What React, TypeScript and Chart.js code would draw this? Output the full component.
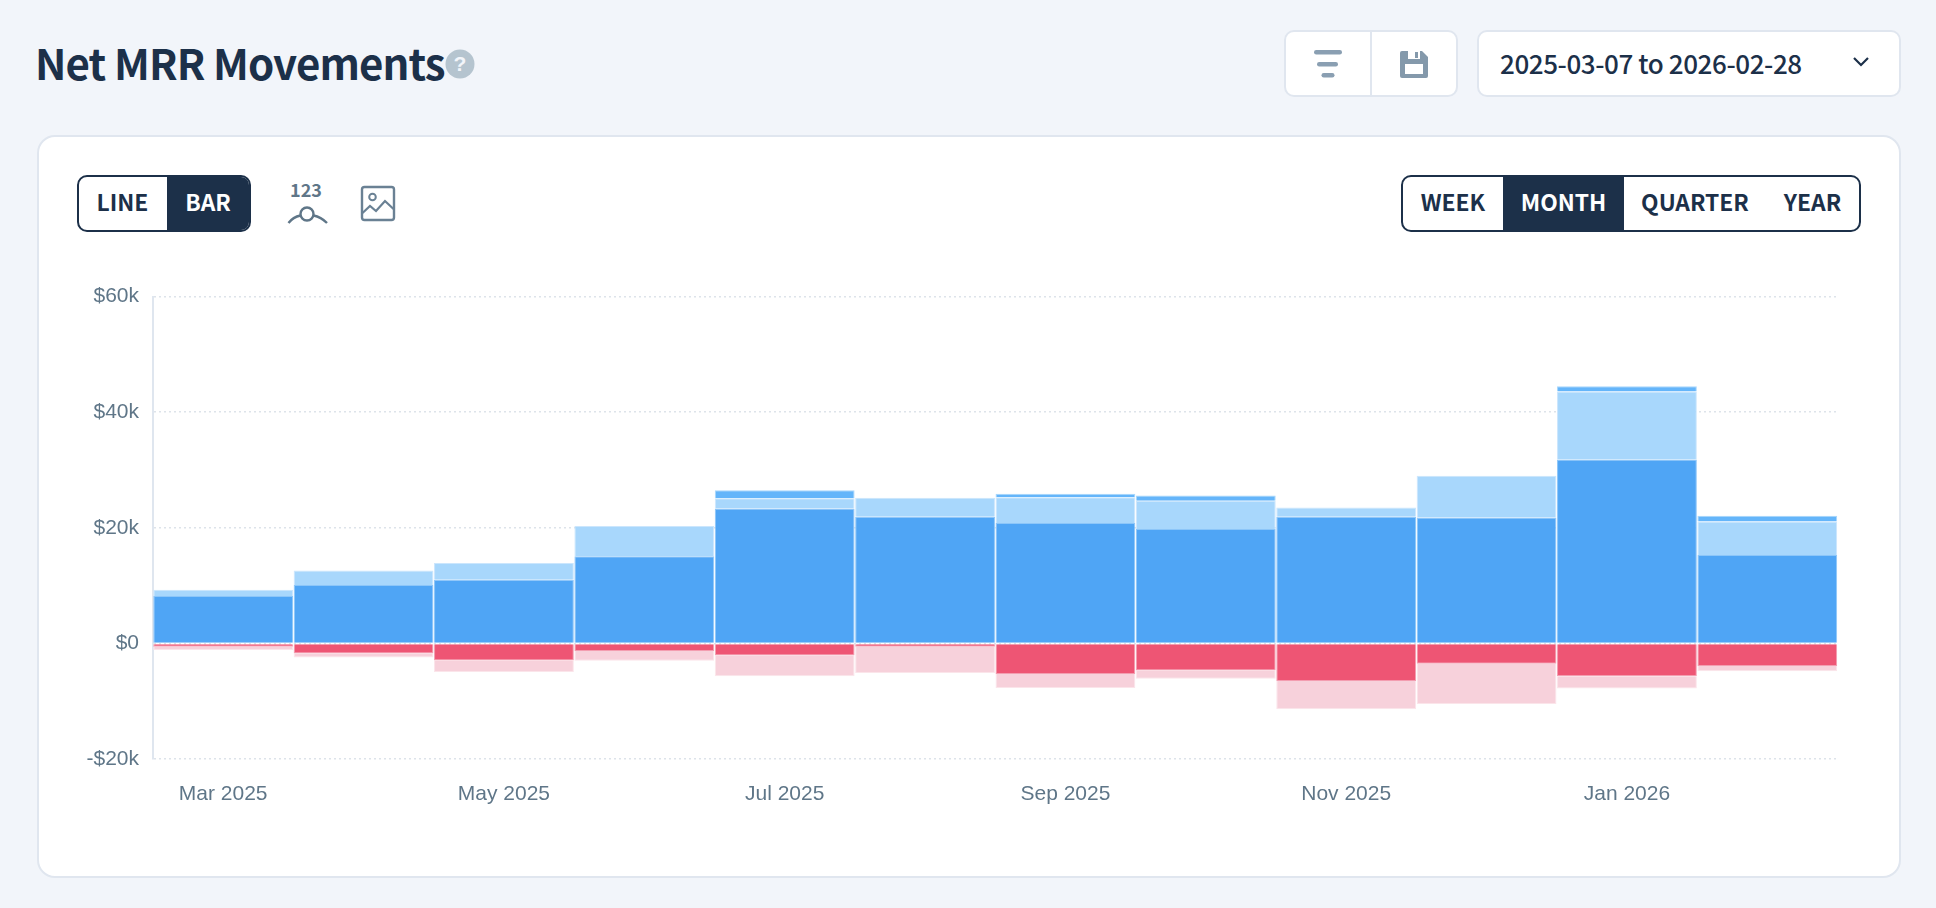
import { useEffect, useRef } from 'react'
import type { CSSProperties } from 'react'
import { Chart, registerables } from 'chart.js'

Chart.register(...registerables)

const months = ['Mar 2025', 'Apr 2025', 'May 2025', 'Jun 2025', 'Jul 2025', 'Aug 2025', 'Sep 2025', 'Oct 2025', 'Nov 2025', 'Dec 2025', 'Jan 2026', 'Feb 2026']
const newBusiness = [8200, 10100, 11000, 15060, 23350, 21900, 20850, 19800, 21900, 21800, 31800, 15300]
const expansion = [1100, 2500, 2900, 5240, 1750, 3300, 4450, 4860, 1600, 7200, 11800, 5800]
const reactivation = [null, null, null, null, 1400, null, 600, 940, null, null, 900, 1000]
const churn = [-570, -1760, -2950, -1300, -2100, -600, -5300, -4700, -6500, -3500, -5700, -3900]
const contraction = [-570, -680, -1990, -1700, -3600, -4500, -2400, -1400, -4900, -7000, -2100, -900]

const NAVY = '#1c3049'
const LINE = '#e0e6ef'
const SLATE = '#5f7688'
const UI_FONT = '"Noto Sans CJK SC", "Noto Sans", sans-serif'

function box(left: number, top: number, width: number, height: number): CSSProperties {
  return { position: 'absolute', left, top, width, height, boxSizing: 'border-box' }
}

function Label({ cx, cy, text, color = NAVY, size = 22.8 }: { cx: number; cy: number; text: string; color?: string; size?: number }) {
  return (
    <div style={{ position: 'absolute', left: cx - 100, top: cy - 20, width: 200, height: 40, lineHeight: '40px', textAlign: 'center', color, fontSize: size, fontWeight: 600, fontFamily: UI_FONT }}>
      {text}
    </div>
  )
}

function MovementsChart() {
  const canvasRef = useRef<HTMLCanvasElement | null>(null)

  useEffect(() => {
    const ctx = canvasRef.current?.getContext('2d')
    if (!ctx) return
    const bar = (label: string, data: (number | null)[], color: string, edge: string) => ({
      label,
      data,
      backgroundColor: color,
      borderColor: edge,
      borderWidth: 1,
      barPercentage: 0.996,
      categoryPercentage: 1
    })
    const chart = new Chart(ctx, {
      type: 'bar',
      data: {
        labels: months,
        datasets: [
          bar('New Business', newBusiness, '#4fa5f5', '#8cc6f9'),
          bar('Expansion', expansion, '#a8d7fc', '#cbe6fd'),
          bar('Reactivation', reactivation, '#64b5fa', '#a8d7fc'),
          bar('Churn', churn, '#ee5574', '#f39db0'),
          bar('Contraction', contraction, '#f7d1db', '#fbe5ea')
        ]
      },
      options: {
        animation: false,
        responsive: false,
        layout: { padding: { top: 11.5, right: 22.5, left: 0, bottom: 0 } },
        plugins: { legend: { display: false }, tooltip: { enabled: false } },
        scales: {
          x: {
            stacked: true,
            afterFit: (scale) => { scale.height = 81 },
            grid: { display: false },
            border: { display: false },
            ticks: {
              autoSkip: false,
              maxRotation: 0,
              padding: 15,
              color: SLATE,
              font: { family: '"Liberation Sans", Arial, sans-serif', size: 21 },
              callback: (_v, i) => (i % 2 === 0 ? months[i] : '')
            }
          },
          y: {
            stacked: true,
            min: -20000,
            max: 60000,
            afterFit: (scale) => { scale.width = 113 },
            grid: { color: '#dde3ea', lineWidth: 1.5, drawTicks: false },
            border: { display: true, color: '#dfe6ef', width: 2, dash: [2, 3] },
            ticks: {
              stepSize: 20000,
              padding: 14,
              color: SLATE,
              font: { family: '"Liberation Sans", Arial, sans-serif', size: 21 },
              callback: (v) => {
                const n = Number(v)
                return (n < 0 ? '-' : '') + '$' + Math.abs(n) / 1000 + (n === 0 ? '' : 'k')
              }
            }
          }
        }
      }
    })
    return () => chart.destroy()
  }, [])

  return <canvas ref={canvasRef} width={1820} height={570} style={{ position: 'absolute', left: 40, top: 270, width: 1820, height: 570 }}></canvas>
}

export default function App() {
  return (
    <div style={{ position: 'absolute', left: 0, top: 0, width: 1936, height: 908, background: '#f2f5fa', overflow: 'hidden' }}>
      <div style={{ position: 'absolute', left: 35, top: 29, height: 66, lineHeight: '66px', fontSize: 42, letterSpacing: -0.9, fontWeight: 600, color: NAVY, fontFamily: UI_FONT, whiteSpace: 'nowrap' }}>
        Net MRR Movements
      </div>
      <svg style={box(445, 49, 30, 30)} viewBox="0 0 30 30">
        <circle cx="15" cy="15" r="14.5" fill="#b5c4cf" />
        <text x="15" y="22" textAnchor="middle" fontSize="21" fontWeight="700" fill="#f2f5fa" fontFamily='"Liberation Sans", sans-serif'>?</text>
      </svg>

      <div style={{ ...box(1284, 30, 174, 67), background: '#fff', border: `2px solid ${LINE}`, borderRadius: 10 }}>
        <div style={{ position: 'absolute', left: 84, top: 0, width: 2, height: 63, background: LINE }}></div>
      </div>
      <svg style={box(1284, 30, 173, 67)} viewBox="1284 30 173 67">
        <rect x="1314" y="50" width="28" height="4.5" rx="2.2" fill="#8a9fb2" />
        <rect x="1317" y="62" width="21" height="4.5" rx="2.2" fill="#8a9fb2" />
        <rect x="1321.5" y="73" width="13" height="4.5" rx="2.2" fill="#8a9fb2" />
        <path d="M1400 53 a2 2 0 0 1 2 -2 h20 l6 6 v19 a2 2 0 0 1 -2 2 h-24 a2 2 0 0 1 -2 -2 z" fill="#8499ab" />
        <rect x="1405" y="64" width="18" height="10" fill="#fff" />
        <rect x="1408" y="51" width="12" height="8" fill="#fff" />
        <rect x="1415" y="52" width="3" height="6" fill="#8499ab" />
      </svg>

      <div style={{ ...box(1477, 30, 424, 67), background: '#fff', border: `2px solid ${LINE}`, borderRadius: 10 }}></div>
      <div style={{ position: 'absolute', left: 1500, top: 43, height: 40, lineHeight: '40px', fontSize: 26, letterSpacing: -0.42, fontWeight: 500, color: NAVY, fontFamily: UI_FONT, whiteSpace: 'nowrap' }}>
        2025-03-07 to 2026-02-28
      </div>
      <svg style={box(1850, 52, 22, 20)} viewBox="0 0 22 20">
        <path d="M4 6 L11 13 L18 6" fill="none" stroke={NAVY} strokeWidth="2.2" />
      </svg>

      <div style={{ ...box(37, 135, 1864, 743), background: '#fff', border: `2px solid ${LINE}`, borderRadius: 18 }}></div>

      <div style={{ ...box(77, 175, 174, 57), background: '#fff', border: `2px solid ${NAVY}`, borderRadius: 10, overflow: 'hidden' }}>
        <div style={{ position: 'absolute', left: 88, top: 0, width: 84, height: 53, background: NAVY }}></div>
      </div>
      <Label cx={122.5} cy={202} text="LINE" />
      <Label cx={208} cy={202} text="BAR" color="#fff" />

      <Label cx={306} cy={189} text="123" color={SLATE} size={18} />
      <svg style={box(280, 200, 56, 30)} viewBox="280 200 56 30">
        <circle cx="307" cy="214" r="6.5" fill="none" stroke={SLATE} strokeWidth="2.4" />
        <path d="M288.5 223 Q293 217 300.5 215.5 M313.5 215.5 Q321 217 327 223" fill="none" stroke={SLATE} strokeWidth="2.4" />
      </svg>
      <svg style={box(358, 183, 40, 41)} viewBox="358 183 40 41">
        <rect x="362" y="187" width="32" height="33" rx="2.5" fill="none" stroke="#6a8194" strokeWidth="2.4" />
        <circle cx="372.5" cy="197" r="3.3" fill="none" stroke="#6a8194" strokeWidth="2" />
        <path d="M362.5 213 L370 206 L376 211 L385 201 L393.5 209" fill="none" stroke="#6a8194" strokeWidth="2.2" />
      </svg>

      <div style={{ ...box(1401, 175, 460, 57), background: '#fff', border: `2px solid ${NAVY}`, borderRadius: 10, overflow: 'hidden' }}>
        <div style={{ position: 'absolute', left: 100, top: 0, width: 121, height: 53, background: NAVY }}></div>
      </div>
      <Label cx={1453} cy={202} text="WEEK" />
      <Label cx={1563.5} cy={202} text="MONTH" color="#fff" />
      <Label cx={1695} cy={202} text="QUARTER" />
      <Label cx={1812.5} cy={202} text="YEAR" />

      <MovementsChart />
    </div>
  )
}
